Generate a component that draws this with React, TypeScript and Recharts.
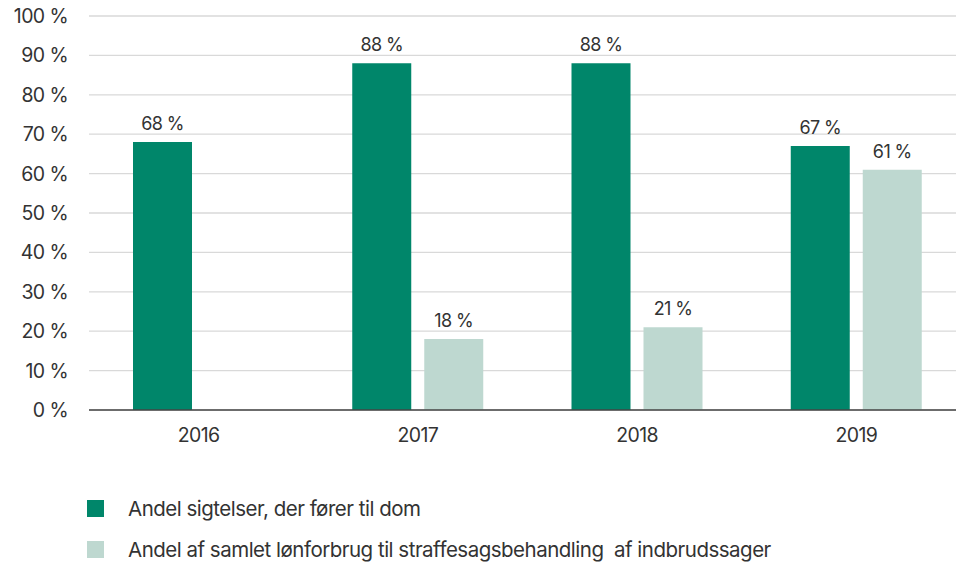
import React from 'react';
import { BarChart, Bar, XAxis, YAxis, CartesianGrid, LabelList } from 'recharts';

const YEARS = ['2016', '2017', '2018', '2019'];
const DOM_SHARE = [68, 88, 88, 67];
const LOEN_SHARE = [null, 18, 21, 61];
const Y_TICKS = [0, 10, 20, 30, 40, 50, 60, 70, 80, 90, 100];

const GREEN = '#00866A';
const LIGHT = '#BED8D0';
const TEXT = '#333333';
const FONT = 'Inter, "Noto Sans", sans-serif';

const SERIES = [
  { key: 'dom', name: 'Andel sigtelser, der fører til dom', color: GREEN },
  { key: 'loen', name: 'Andel af samlet lønforbrug til straffesagsbehandling  af indbrudssager', color: LIGHT },
];

const data = YEARS.map((year, i) => ({ year, dom: DOM_SHARE[i], loen: LOEN_SHARE[i] }));

const pct = (v: any) => (v == null ? '' : `${v} %`);

const LegendBox = () => (
  <div style={{ position: 'absolute', left: 87, top: 488, fontFamily: FONT, color: TEXT, fontSize: 20.5, letterSpacing: -0.5 }}>
    {SERIES.map((s) => (
      <div key={s.key} style={{ display: 'flex', alignItems: 'center', height: 41 }}>
        <span style={{ width: 17, height: 17, background: s.color, display: 'inline-block', marginRight: 24 }} />
        <span style={{ whiteSpace: 'pre' }}>{s.name}</span>
      </div>
    ))}
  </div>
);

export default function App() {
  return (
    <div style={{ position: 'absolute', left: 0, top: 0, width: 956, height: 562, overflow: 'hidden', background: '#fff' }}>
      <BarChart
        width={966}
        height={562}
        data={data}
        margin={{ top: 16, right: 0, left: 0, bottom: 122 }}
        barSize={59}
        barGap={13}
      >
        <CartesianGrid vertical={false} stroke="#d9d9d9" strokeWidth={1.3} />
        <XAxis
          dataKey="year"
          height={30}
          tickLine={false}
          tickSize={0}
          tickMargin={18}
          axisLine={{ stroke: '#444', strokeWidth: 1.6 }}
          tick={{ fill: TEXT, fontSize: 19.5, fontFamily: FONT, letterSpacing: -0.6 }}
        />
        <YAxis
          width={89}
          domain={[0, 100]}
          ticks={Y_TICKS}
          interval={0}
          axisLine={false}
          tickLine={false}
          tickSize={0}
          tickMargin={21}
          tickFormatter={pct}
          tick={{ fill: TEXT, fontSize: 19.5, fontFamily: FONT, letterSpacing: -0.6 }}
        />
        {SERIES.map((s) => (
          <Bar key={s.key} dataKey={s.key} name={s.name} fill={s.color} isAnimationActive={false}>
            <LabelList
              dataKey={s.key}
              position="top"
              offset={12}
              formatter={pct}
              style={{ fill: TEXT, fontSize: 18, fontFamily: FONT, letterSpacing: -0.6 }}
            />
          </Bar>
        ))}
      </BarChart>
      <LegendBox />
    </div>
  );
}
